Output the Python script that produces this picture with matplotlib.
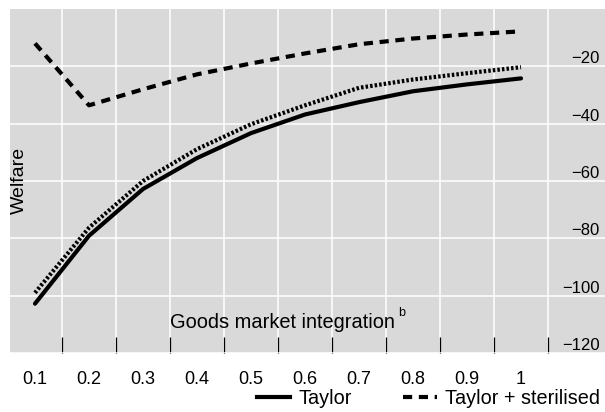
import matplotlib.pyplot as plt
from matplotlib.lines import Line2D
import numpy as np

plt.rcParams['font.family'] = ['Liberation Sans', 'DejaVu Sans']

# Data
integration = ['0.1', '0.2', '0.3', '0.4', '0.5', '0.6', '0.7', '0.8', '0.9', '1']
taylor = [-102.8, -79.1, -62.8, -52.0, -43.3, -36.8, -32.5, -28.7, -26.3, -24.2]
taylor_dotted = [-99.0, -76.3, -60.0, -48.9, -40.2, -33.6, -27.5, -24.6, -22.4, -20.3]
taylor_steril = [-12.0, -33.6, -28.0, -22.8, -19.0, -15.5, -12.3, -10.3, -8.9, -7.8]
yticks = [-120, -100, -80, -60, -40, -20]

W, H = 605, 412
fig = plt.figure(figsize=(W / 100, H / 100), dpi=100)
ax = fig.add_axes([10 / W, 1 - 353 / H, (W - 10) / W, (353 - 9) / H])
ax.set_facecolor('#d9d9d9')
for s in ax.spines.values():
    s.set_visible(False)

x = np.arange(len(integration))
ax.plot(x, taylor, color='black', lw=3.0, solid_capstyle='round', zorder=3)
ax.plot(x, taylor_dotted, color='black', lw=3.0, linestyle=(0, (0.6, 0.5)), zorder=3)
ax.plot(x, taylor_steril, color='black', lw=3.0, linestyle=(0, (2.2, 1.6)), zorder=3)

ax.set_xlim(-25 / 54, (W - 35) / 54)
ax.set_ylim(-120, 0)

# grid: vertical lines between categories, horizontal every 20
ax.set_xticks(x)
ax.set_xticklabels(integration, fontsize=13)
ax.set_xticks(x + 0.5, minor=True)
ax.tick_params(axis='x', which='major', length=0, pad=13)
ax.tick_params(axis='x', which='minor', direction='in', length=11.5, width=0.9, color='black')
ax.grid(axis='x', which='minor', color='white', lw=1.1)

ax.yaxis.tick_right()
ax.set_yticks(yticks)
ax.set_yticklabels(['\u2212' + str(-v) for v in yticks], fontsize=12)
ax.tick_params(axis='y', which='both', length=0, pad=-4)
for lab in ax.get_yticklabels():
    lab.set_horizontalalignment('right')
    lab.set_verticalalignment('bottom')
ax.grid(axis='y', which='major', color='white', lw=1.1)
ax.set_axisbelow(True)

fig.text(19 / W, 1 - 180 / H, 'Welfare', rotation=90, ha='center', va='center', fontsize=14)
fig.text(170 / W, 1 - 322 / H, 'Goods market integration', ha='left', va='center', fontsize=14.4)
fig.text(398 / W, 1 - 313 / H, 'b', ha='left', va='center', fontsize=9)

handles = [Line2D([], [], color='black', lw=3.0),
           Line2D([], [], color='black', lw=3.0, linestyle=(0, (2.2, 1.6)))]
fig.legend(handles, ['Taylor', 'Taylor + sterilised'], ncol=2, frameon=False,
           loc='center right', bbox_to_anchor=(1.005, 1 - 398 / H), borderaxespad=0,
           fontsize=14.3, handlelength=1.7, handletextpad=0.4, columnspacing=2.6)

fig.savefig('out.png', dpi=100)
